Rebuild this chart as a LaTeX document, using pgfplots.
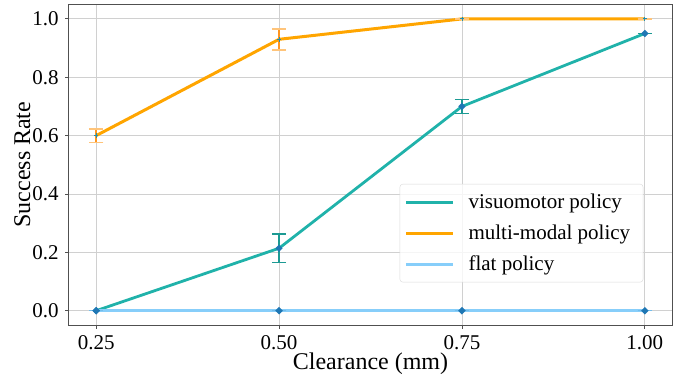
\documentclass[border=0pt]{standalone}
\usepackage{pgfplots}
\pgfplotsset{compat=1.18}
\usepackage{fontspec}
\setmainfont{Liberation Serif}
\definecolor{cteal}{HTML}{20B2AA}
\definecolor{cteald}{HTML}{1C9A93}
\definecolor{corange}{HTML}{FFA500}
\definecolor{corangebar}{HTML}{FF9620}
\definecolor{corangecap}{HTML}{FFC47A}
\definecolor{csky}{HTML}{87CEFA}
\definecolor{cmark}{HTML}{1F77B4}
\definecolor{cgrid}{HTML}{D0D0D0}
\definecolor{caxis}{HTML}{505050}
\begin{document}
\begin{tikzpicture}
\begin{axis}[
  scale only axis,
  width=603.6pt, height=320.7pt,
  xmin=0.2125, xmax=1.0375, ymin=-0.049, ymax=1.05,
  xtick={0.25,0.5,0.75,1.0},
  ytick={0,0.2,0.4,0.6,0.8,1.0},
  /pgf/number format/assume math mode=true,
  tick label style={font=\fontsize{21}{24}\selectfont, text=black},
  xticklabel style={/pgf/number format/fixed, /pgf/number format/fixed zerofill, /pgf/number format/precision=2, inner sep=0pt, yshift=-6.7pt, anchor=north},
  yticklabel style={/pgf/number format/fixed, /pgf/number format/fixed zerofill, /pgf/number format/precision=1, inner sep=0pt, xshift=-6.4pt, anchor=east},
  xlabel={Clearance (mm)}, ylabel={Success Rate},
  xlabel style={font=\fontsize{24}{28}\selectfont, at={([yshift=-44pt]axis description cs:0.5,0)}, anchor=base, inner sep=0pt},
  ylabel style={font=\fontsize{24}{28}\selectfont, at={([xshift=-38.5pt]axis description cs:0,0.5)}, anchor=base, inner sep=0pt},
  grid=major, major grid style={cgrid, line width=0.8pt},
  axis line style={caxis, line width=1pt},
  tick style={caxis, line width=0.8pt},
  tick align=outside, major tick length=3.5pt,
  xtick pos=bottom, ytick pos=left,
  legend cell align=left,
  legend style={at={(0.952,0.133)}, anchor=south east,
    draw=cgrid!80!white, rounded corners=3pt, fill=white, fill opacity=0.8, text opacity=1, draw opacity=1,
    font=\fontsize{21}{24}\selectfont, row sep=10.8pt, inner xsep=5pt, inner ysep=8pt,
    nodes={inner xsep=8pt, inner ysep=2pt},
    /tikz/every odd column/.append style={column sep=6pt}},
  legend image code/.code={\draw[#1, line width=3pt] (0pt,0pt) -- (46.7pt,0pt);},
]
\addlegendimage{cteal}
\addlegendentry{visuomotor policy}
\addlegendimage{corange}
\addlegendentry{multi-modal policy}
\addlegendimage{csky}
\addlegendentry{flat policy}

\addplot[cteal, line width=2.8pt, mark=*, mark size=1.7pt, mark options={fill=cmark, draw=cmark},
  error bars/.cd, y dir=both, y explicit,
  error bar style={color=cteald, line width=1.6pt},
  error mark options={rotate=90, mark size=7pt, line width=1.3pt, color=cteald}]
  coordinates {(0.25,0.0) +- (0,0.0) (0.50,0.214) +- (0,0.049) (0.75,0.700) +- (0,0.024) (1.00,0.950) +- (0,0.0)};

\addplot[corange, line width=3pt, mark=+, mark size=2.2pt, mark options={draw=cmark!60!cteal, line width=0.8pt},
  error bars/.cd, y dir=both, y explicit,
  error bar style={color=corangebar, line width=1.8pt},
  error mark options={rotate=90, mark size=7.2pt, line width=1.5pt, color=corangecap}]
  coordinates {(0.25,0.600) +- (0,0.023) (0.50,0.930) +- (0,0.036) (0.75,1.000) +- (0,0.0) (1.00,1.000) +- (0,0.0)};

\addplot[csky, line width=3pt, mark=*, mark size=1.7pt, mark options={fill=cmark, draw=cmark},
  error bars/.cd, y dir=both, y explicit,
  error bar style={color=csky, line width=1.5pt},
  error mark options={rotate=90, mark size=7pt, line width=1.3pt, color=csky!80!cmark}]
  coordinates {(0.25,0.0) +- (0,0.0) (0.50,0.0) +- (0,0.0) (0.75,0.0) +- (0,0.0) (1.00,0.0) +- (0,0.0)};
\end{axis}
\pgfresetboundingbox
\path ([shift={(-68.7pt,-49pt)}]current axis.south west) rectangle ([shift={(12.7pt,4.3pt)}]current axis.north east);
\end{tikzpicture}
\end{document}
